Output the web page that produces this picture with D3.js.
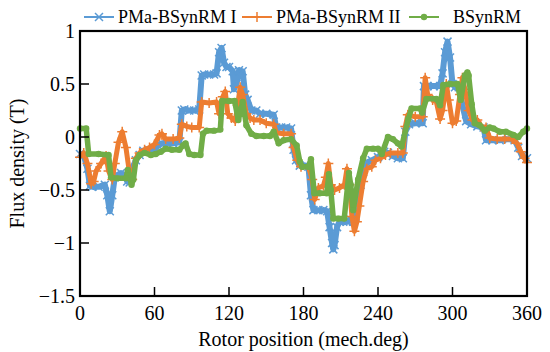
<!DOCTYPE html>
<html>
<head>
    <meta charset="utf-8">
    <title>Flux density vs rotor position</title>
    <script src="https://d3js.org/d3.v7.min.js"></script>
    <style>
        body, html {
            margin: 0;
            padding: 0;
            background: white;
            overflow: hidden;
        }
        text {
            font-family: "Liberation Serif", "Times New Roman", serif;
            fill: black;
        }
    </style>
</head>
<body>
    <svg id="chart" width="550" height="352"></svg>

    <script>
        const seriesNames = ["PMa-BSynRM I", "PMa-BSynRM II", "BSynRM"];
        const xTicks = [0, 60, 120, 180, 240, 300, 360];
        const yTicks = [1, 0.5, 0, -0.5, -1, -1.5];

        // PMa-BSynRM I
        const posI = [0, 3, 6, 8, 10, 15, 20, 22, 24, 26, 28, 30, 33, 36, 38, 40, 42, 45, 48, 51, 55, 60, 63, 66, 70, 75, 80,
            82, 84, 88, 92, 96, 98, 100, 104, 108, 110, 112, 114, 116, 118, 120, 123, 124, 126, 128, 131, 133, 135, 138, 142,
            145, 150, 156, 158, 162, 166, 170, 172, 174, 177, 181, 184, 186, 188, 192, 196, 199, 201, 203, 204, 205, 207, 209,
            212, 215, 218, 220, 222, 224, 226, 228, 231, 235, 240, 245, 248, 252, 256, 260, 262, 265, 270, 276, 277, 280, 285,
            290, 292, 294, 296, 298, 300, 302, 305, 308, 311, 315, 320, 325, 327, 332, 338, 345, 350, 353, 356, 360];
        const fluxI = [-0.16, -0.17, -0.30, -0.46, -0.47, -0.47, -0.45, -0.55, -0.70, -0.55, -0.38, -0.36, -0.34, -0.36, -0.42,
            -0.43, -0.30, -0.22, -0.17, -0.13, -0.12, -0.12, -0.08, -0.06, -0.06, -0.06, -0.05,
            0.25, 0.26, 0.25, 0.25, 0.26, 0.58, 0.59, 0.59, 0.59, 0.60, 0.80, 0.84, 0.70, 0.66, 0.66, 0.62, 0.45, 0.50, 0.63,
            0.62, 0.40, 0.35, 0.25, 0.25, 0.22, 0.22, 0.21, 0.09, 0.09, 0.09, 0.08, -0.12, -0.22, -0.27, -0.27, -0.28, -0.55,
            -0.69, -0.69, -0.69, -0.70, -0.85, -1.00, -1.06, -1.02, -0.85, -0.80, -0.80, -0.80, -0.78, -0.80, -0.75, -0.55,
            -0.45, -0.33, -0.24, -0.22, -0.19, -0.14, -0.15, -0.18, -0.20, -0.20, 0.05, 0.12, 0.13, 0.13, 0.48, 0.48, 0.48,
            0.48, 0.60, 0.80, 0.90, 0.75, 0.50, 0.47, 0.47, 0.30, 0.15, 0.12, 0.10, 0.09, -0.03, -0.03, -0.03, -0.02, -0.03,
            -0.10, -0.18, -0.20];

        // PMa-BSynRM II
        const posII = [0, 3, 6, 9, 11, 13, 17, 21, 23, 26, 28, 31, 34, 37, 40, 42, 45, 48, 52, 56, 60, 64, 66, 69, 75, 80,
            82, 86, 90, 96, 98, 104, 110, 112, 115, 117, 119, 122, 125, 127, 129, 131, 134, 137, 140, 145, 150, 156, 158, 164,
            170, 172, 175, 178, 184, 187, 189, 192, 196, 198, 200, 202, 205, 209, 213, 215, 217, 219, 221, 223, 225, 228, 231,
            235, 238, 242, 246, 250, 256, 260, 262, 264, 270, 276, 278, 280, 284, 287, 290, 292, 295, 297, 300, 303, 306, 308,
            310, 313, 316, 320, 323, 327, 330, 336, 342, 348, 352, 355, 358, 360];
        const fluxII = [-0.19, -0.15, -0.25, -0.44, -0.42, -0.32, -0.25, -0.18, -0.32, -0.40, -0.25, -0.05, 0.05, -0.10, -0.35,
            -0.40, -0.20, -0.15, -0.12, -0.10, -0.07, 0.02, 0.03, -0.02, -0.02, -0.01,
            0.12, 0.10, 0.09, 0.09, 0.33, 0.32, 0.33, 0.22, 0.38, 0.43, 0.22, 0.18, 0.15, 0.30, 0.47, 0.40, 0.22, 0.18, 0.16,
            0.16, 0.13, 0.12, 0.04, 0.03, 0.03, -0.10, -0.22, -0.28, -0.28, -0.40, -0.59, -0.48, -0.46, -0.38, -0.25, -0.45,
            -0.50, -0.48, -0.45, -0.30, -0.45, -0.75, -0.89, -0.80, -0.65, -0.42, -0.30, -0.28, -0.22, -0.20, -0.17, -0.15,
            -0.15, -0.15, 0.10, 0.21, 0.19, 0.19, 0.56, 0.40, 0.35, 0.33, 0.17, 0.25, 0.50, 0.35, 0.13, 0.15, 0.40, 0.56,
            0.45, 0.25, 0.16, 0.16, 0.10, 0.09, -0.01, -0.02, -0.02, -0.02, -0.06, -0.14, -0.20, -0.24];

        // BSynRM
        const posB = [0, 5, 7, 15, 23, 25, 30, 37, 38.5, 41.5, 43, 45, 48, 52, 57, 61, 65, 69, 74, 80, 83, 85, 88, 92, 97,
            99, 102, 108, 113, 114.5, 120, 124.5, 127.5, 131, 134, 138, 142, 148, 153, 156, 160, 164, 170, 174.5, 177, 179,
            184, 186, 188.7, 193, 198.7, 200.5, 202, 204, 208, 212.8, 216.6, 218, 220, 224, 228, 231, 236, 240, 243, 248, 252,
            256, 259, 264.4, 267, 274, 275.5, 279, 287, 290, 292.6, 298, 304, 306.6, 310, 312, 313, 315.5, 318, 322, 326, 330,
            333, 338, 343, 349, 353, 357, 360];
        const fluxB = [0.08, 0.08, -0.16, -0.16, -0.17, -0.38, -0.39, -0.39, -0.31, -0.45, -0.40, -0.22, -0.17, -0.15, -0.17,
            -0.16, -0.14, -0.11, -0.12, -0.12, -0.08, -0.06, -0.16, -0.17, -0.17,
            0.03, 0.06, 0.06, 0.07, 0.34, 0.34, 0.34, 0.16, 0.33, 0.11, 0.03, 0.01, 0.01, 0.01, 0.05, -0.06, -0.03, -0.02,
            -0.08, -0.23, -0.28, -0.28, -0.21, -0.53, -0.53, -0.53, -0.35, -0.50, -0.77, -0.77, -0.77, -0.34, -0.45, -0.69,
            -0.40, -0.20, -0.11, -0.11, -0.11, -0.16, 0.00, -0.02, -0.06, -0.09, 0.17, 0.27, 0.27, 0.23, 0.36, 0.36, 0.30,
            0.49, 0.50, 0.50, 0.35, 0.58, 0.61, 0.58, 0.31, 0.13, 0.11, 0.06, 0.09, 0.08, 0.05, 0.05, 0.02, 0.00, 0.05, 0.08];

        const colors = ["#5b9bd5", "#ed7d31", "#70ad47"];

        const svg = d3.select("#chart");
        const margin = {left: 80, right: 23, top: 31, bottom: 56};
        const width = 550, height = 352;

        const x = d3.scaleLinear().domain([0, 360]).range([margin.left, width - margin.right]);
        const y = d3.scaleLinear().domain([-1.5, 1]).range([height - margin.bottom, margin.top]);

        const series = [
            {name: seriesNames[0], pos: posI, flux: fluxI, color: colors[0], marker: "x", width: 6},
            {name: seriesNames[1], pos: posII, flux: fluxII, color: colors[1], marker: "plus", width: 5},
            {name: seriesNames[2], pos: posB, flux: fluxB, color: colors[2], marker: "dot", width: 5.5}
        ];

        const line = d3.line()
            .x(d => x(d[0]))
            .y(d => y(d[1]));

        const plot = svg.append("g");

        series.forEach(s => {
            const pts = s.pos.map((p, i) => [p, s.flux[i]]);
            plot.append("path")
                .datum(pts)
                .attr("fill", "none")
                .attr("stroke", s.color)
                .attr("stroke-width", s.width)
                .attr("stroke-linejoin", "round")
                .attr("d", line);

            const m = plot.append("g").selectAll("g")
                .data(pts)
                .enter().append("g")
                .attr("transform", d => `translate(${x(d[0])},${y(d[1])})`);
            drawMarker(m, s.marker, s.color);
        });

        function drawMarker(sel, type, color) {
            if (type === "x") {
                sel.append("path").attr("d", "M-4,-4L4,4M-4,4L4,-4")
                    .attr("stroke", color).attr("stroke-width", 1.5);
            } else if (type === "plus") {
                sel.append("path").attr("d", "M-5,0L5,0M0,-5L0,5")
                    .attr("stroke", color).attr("stroke-width", 1.5);
            } else {
                sel.append("circle").attr("r", 3.2).attr("fill", color);
            }
        }

        // frame
        svg.append("rect")
            .attr("x", margin.left)
            .attr("y", margin.top)
            .attr("width", width - margin.left - margin.right)
            .attr("height", height - margin.top - margin.bottom)
            .attr("fill", "none")
            .attr("stroke", "black")
            .attr("stroke-width", 2.2);

        // inward ticks
        svg.selectAll(".xtick")
            .data(xTicks.slice(1, -1))
            .enter().append("line")
            .attr("x1", d => x(d)).attr("x2", d => x(d))
            .attr("y1", y(-1.5)).attr("y2", y(-1.5) - 9)
            .attr("stroke", "black").attr("stroke-width", 1.5);

        svg.selectAll(".ytick")
            .data(yTicks.slice(1, -1))
            .enter().append("line")
            .attr("x1", x(0)).attr("x2", x(0) + 9)
            .attr("y1", d => y(d)).attr("y2", d => y(d))
            .attr("stroke", "black").attr("stroke-width", 1.5);

        svg.selectAll(".xlabel")
            .data(xTicks)
            .enter().append("text")
            .attr("x", d => x(d))
            .attr("y", y(-1.5) + 24)
            .attr("text-anchor", "middle")
            .style("font-size", "20px")
            .text(d => d);

        svg.selectAll(".ylabel")
            .data(yTicks)
            .enter().append("text")
            .attr("x", x(0) - 5)
            .attr("y", d => y(d))
            .attr("dy", "0.35em")
            .attr("text-anchor", "end")
            .style("font-size", "20px")
            .text(d => String(d).replace("-", "\u2212"));

        svg.append("text")
            .attr("x", x(180))
            .attr("y", 346)
            .attr("text-anchor", "middle")
            .style("font-size", "20px")
            .text("Rotor position (mech.deg)");

        svg.append("text")
            .attr("transform", `translate(24,${y(-0.25)}) rotate(-90)`)
            .attr("text-anchor", "middle")
            .style("font-size", "20px")
            .text("Flux density (T)");

        // legend
        const legendX = [84, 242, 409];
        const legend = svg.selectAll(".legend")
            .data(series)
            .enter().append("g")
            .attr("transform", (d, i) => `translate(${legendX[i]},17)`);

        legend.append("line")
            .attr("x1", 0).attr("x2", 30)
            .attr("stroke", d => d.color)
            .attr("stroke-width", 2);

        legend.each(function(d) {
            const g = d3.select(this).append("g").attr("transform", "translate(15,0)");
            drawMarker(g, d.marker, d.color);
        });

        legend.append("text")
            .attr("x", (d, i) => i === 2 ? 44 : 34)
            .attr("dy", "0.35em")
            .style("font-size", "18px")
            .text(d => d.name);
    </script>
</body>
</html>
